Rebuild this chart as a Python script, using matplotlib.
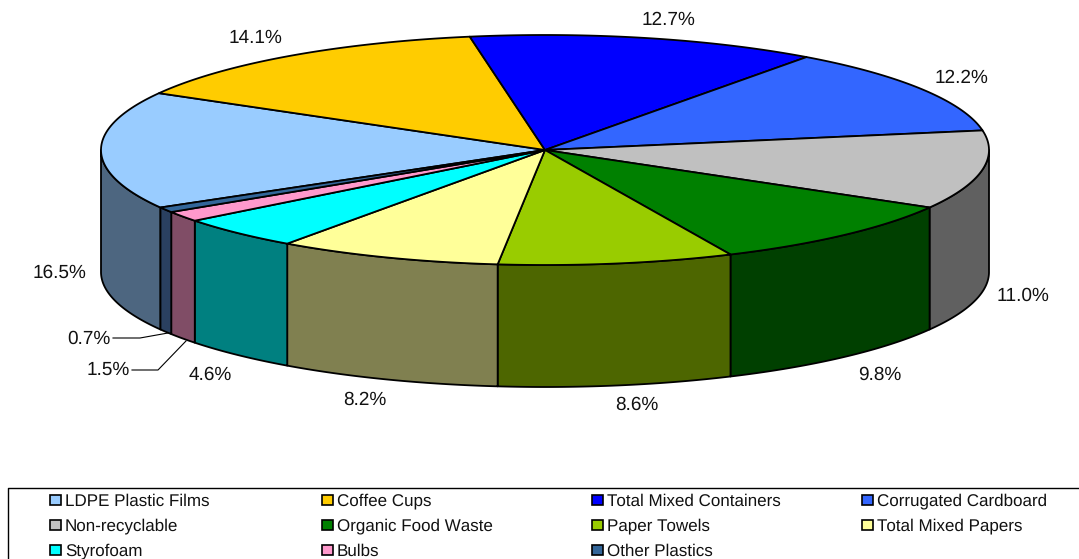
import numpy as np
import matplotlib
matplotlib.use("Agg")
import matplotlib.pyplot as plt
from matplotlib.patches import Polygon, Rectangle

plt.rcParams["font.family"] = ["Liberation Sans", "DejaVu Sans"]
plt.rcParams["text.hinting"] = "no_hinting"
plt.rcParams["text.hinting_factor"] = 1

categories = ["LDPE Plastic Films", "Coffee Cups", "Total Mixed Containers", "Corrugated Cardboard",
              "Non-recyclable", "Organic Food Waste", "Paper Towels", "Total Mixed Papers",
              "Styrofoam", "Bulbs", "Other Plastics"]
# estimated from the slice edges, they round to the printed labels
values = [16.54, 14.05, 12.72, 12.24, 11.04, 9.80, 8.55, 8.15, 4.60, 1.46, 0.74]
top_colors = ["#99CCFF", "#FFCC00", "#0000FF", "#3366FF", "#C0C0C0", "#008000",
              "#99CC00", "#FFFF99", "#00FFFF", "#FF99CC", "#336699"]
side_colors = ["#4D6680", "#806600", "#000080", "#1A3380", "#606060", "#004000",
               "#4D6600", "#808050", "#008080", "#804D66", "#2A4060"]
labels = ["16.5%", "14.1%", "12.7%", "12.2%", "11.0%", "9.8%", "8.6%", "8.2%", "4.6%", "1.5%", "0.7%"]

# pixel layout of the picture
cx, cy = 545, 150
rx, ry = 444, 115
depth = 122
start = -120.0
label_pos = [(59, 273), (255, 38), (668, 20), (961, 78), (1023, 296), (880, 375),
             (637, 405), (365, 400), (210, 375), (108, 370), (89, 339)]
leaders = {9: [(132, 370), (158, 370), (186, 341)], 10: [(113, 338), (140, 338), (168, 333)]}
legend_x = [50, 322, 592, 862]
legend_y = [500, 525, 550]


def rim(theta_deg, dy=0):
    t = np.radians(theta_deg)
    return np.column_stack([cx + rx * np.sin(t), cy - ry * np.cos(t) + dy])


fig = plt.figure(figsize=(10.79, 5.59), dpi=100)
ax = fig.add_axes([0, 0, 1, 1])
ax.set_xlim(0, 1079)
ax.set_ylim(559, 0)
ax.axis("off")

vals = np.array(values, dtype=float)
edges = start + np.concatenate([[0], np.cumsum(vals / vals.sum() * 360)])

#
# side walls, only the front half of the rim shows
#
for i, (a, b) in enumerate(zip(edges[:-1], edges[1:])):
    for shift in (-360, 0, 360):
        lo, hi = max(a + shift, 90), min(b + shift, 270)
        if hi <= lo:
            continue
        th = np.linspace(lo, hi, 200)
        pts = np.vstack([rim(th), rim(th[::-1], depth)])
        ax.add_patch(Polygon(pts, fc=side_colors[i], ec="black", lw=1.3, joinstyle="round", zorder=2))

#
# top face
#
for i, (a, b) in enumerate(zip(edges[:-1], edges[1:])):
    th = np.linspace(a, b, 300)
    pts = np.vstack([[cx, cy], rim(th)])
    ax.add_patch(Polygon(pts, fc=top_colors[i], ec="black", lw=1.3, joinstyle="round", zorder=3))

#
# labels and leader lines
#
for i, txt in enumerate(labels):
    ax.text(label_pos[i][0], label_pos[i][1], txt, fontsize=13.7, color="#111111",
            ha="center", va="center", zorder=5)
for i, line in leaders.items():
    xs, ys = zip(*line)
    ax.plot(xs, ys, color="black", lw=0.8, zorder=4)

#
# legend box, runs off the right and bottom of the picture
#
ax.plot([1079, 8, 8], [487.5, 487.5, 559], color="black", lw=1.0, zorder=1)
for k, name in enumerate(categories):
    row, col = divmod(k, 4)
    ax.add_patch(Rectangle((legend_x[col], legend_y[row] - 5), 11, 10,
                           fc=top_colors[k], ec="black", lw=1.2, zorder=3))
    ax.text(legend_x[col] + 15, legend_y[row] + 1, name, fontsize=12.0, color="#111111",
            ha="left", va="center", zorder=3)

plt.savefig("out.png", dpi=100)
